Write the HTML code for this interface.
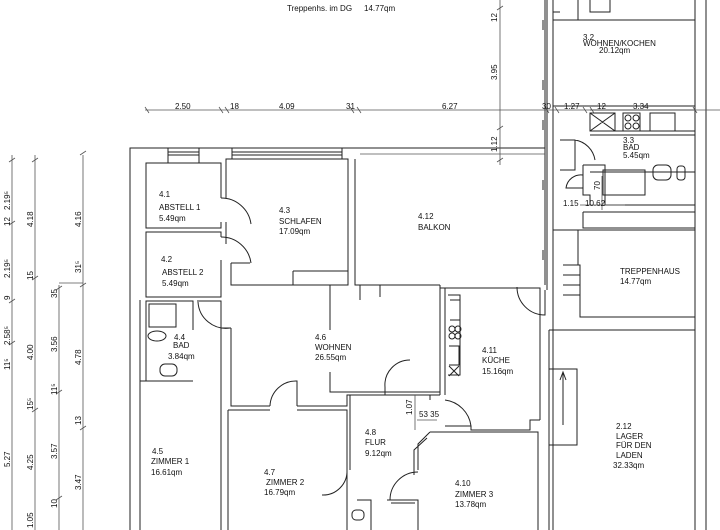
<!DOCTYPE html>
<html><head><meta charset="utf-8"><style>
html,body{margin:0;padding:0;background:#fff}
svg{display:block}
text{font-family:"Liberation Sans",sans-serif;font-size:8px;fill:#111}
</style></head><body>
<svg width="720" height="530" viewBox="0 0 720 530" xmlns="http://www.w3.org/2000/svg">
<g fill="none" stroke="#222" stroke-width="1">
<path d="M130 530V148H545"/>
<path d="M140 530V300"/>
<path d="M168 148v15M199 148v15M232 148v11M342 148v11"/>
<path d="M168 152H199M168 155H199M232 152H342M232 155H342"/>
<path d="M545 0V285M553 0V530M547 0V290"/>
<path d="M543 20v10M543 80v10M543 120v10M543 180v10M543 250v10"/>
<!-- Abstell 1 -->
<path d="M221 198V163H146V228H221V222"/>
<path d="M221 237V232H146V297H221V260"/>
<path d="M221 198a30 30 0 0 1 30 26M221 237a30 30 0 0 1 30 26"/>
<path d="M226 198V159H348V285H231V263"/>
<path d="M226 222V244"/>
<path d="M231 263H250M293 285V271M293 271H348M330 285v45"/>
<!-- bath 4.4 -->
<path d="M193 330V301H146V381H193M197 301H221V328H231"/>
<path d="M198 302a28 28 0 0 0 32 26"/>
<rect x="149" y="304" width="27" height="23"/>
<ellipse cx="157" cy="336" rx="9" ry="5"/>
<rect x="160" y="364" width="17" height="12" rx="5"/>
<path d="M140 381H193M221 328V530"/>
<!-- wohnen -->
<path d="M231 328V406H270M297 406H347V395H440"/>
<path d="M270 406a26 26 0 0 1 27 -25V406"/>
<path d="M330 372V392H440"/>
<path d="M228 410H270M297 410H347V530"/>
<path d="M228 410V530"/>
<!-- balkon -->
<path d="M355 159V285H440M360 285v15M380 285v12"/>
<path d="M440 285V395M440 288H540V420"/>
<path d="M445 288V395"/>
<!-- kueche -->
<path d="M448 295H460V375H448M450 300H460V320H450M449 346H459V365H449"/>
<circle cx="452" cy="329" r="3"/><circle cx="458" cy="329" r="3"/><circle cx="452" cy="336" r="3"/><circle cx="458" cy="336" r="3"/>
<path d="M449 366L459 376M459 366L449 376"/>
<path d="M445 400a30 30 0 0 1 26 26H445M471 426V430H530V420H540"/>
<path d="M410 360a25 25 0 0 0 -25 27V395"/>
<path d="M517 287a28 28 0 0 0 28 28V290"/>
<!-- flur -->
<path d="M350 395V470M430 395V400"/>
<path d="M347 470a24 24 0 0 1 -25 25"/>
<path d="M430 432H538V530M430 432L418 444V470"/>
<path d="M427 438L414 450V475"/>
<path d="M390 500a28 28 0 0 1 28 -28"/>
<path d="M347 500V530M357 500H371V530M387 500H418V530M391 503H415"/>
<rect x="352" y="510" width="12" height="10" rx="4"/>
<!-- right building -->
<path d="M553 0V12H560M553 20H695M578 20V0M590 0V12H610V0M695 0V530M706 0V530"/>
<path d="M553 106H695M590 110H695"/>
<path d="M590 113H615V131H590ZM590 113L615 131M615 113L590 131M623 113H640V131H623ZM650 113H675V131H650Z"/>
<circle cx="628" cy="118" r="3"/><circle cx="636" cy="118" r="3"/><circle cx="628" cy="126" r="3"/><circle cx="636" cy="126" r="3"/>
<path d="M590 131H695M590 135H695"/>
<path d="M560 140H575V170H560M575 140a24 24 0 0 1 20 20"/>
<path d="M583 165H605V205H695M590 172H695M603 170H645V195H603Z"/>
<rect x="653" y="165" width="18" height="15" rx="5"/><rect x="677" y="166" width="8" height="14" rx="3"/>
<path d="M583 165V195H590V205"/>
<path d="M583 175a15 15 0 0 0 -17 13h17"/>
<path d="M583 212H695V230M583 212V228H695"/>
<path d="M553 230H695M578 230V265H580V317H695V265"/>
<path d="M563 265H580M563 275H580M563 285H580M563 295H580"/>
<path d="M549 330H695M549 330V530M549 369H577V445H549M563 372V425"/>
<path d="M560 380l3 -8l3 8"/>
</g>
<g fill="none" stroke="#555" stroke-width="0.8">
<path d="M145 110H720"/>
<path d="M145 107l4 6M219 107l4 6M225 107l4 6M350 107l4 6M357 107l4 6M545 107l4 6M555 107l4 6M583 107l4 6M590 107l4 6M693 107l4 6"/>
<path d="M360 154H545M500 0V165M497 10l6 -4M497 130l6 -4M497 162l6 -4"/>
<path d="M12 155V530M35 155V530M59 285V530M83 155V530"/>
<path d="M59 283H83"/>
<path d="M9 162l6 -4M9 225l6 -4M9 303l6 -4M9 345l6 -4M32 162l6 -4M32 280l6 -4M32 412l6 -4M56 290l6 -4M56 394l6 -4M56 500l6 -4M80 155l6 -4M80 287l6 -4M80 430l6 -4"/>
<path d="M580 205H625M602 176V210M415 395V430M417 420h20"/>
</g>
<g>
<text x="287" y="11">Treppenhs. im DG</text><text x="364" y="11">14.77qm</text>
<text x="175" y="109">2.50</text><text x="230" y="109">18</text><text x="279" y="109">4.09</text><text x="346" y="109">31</text><text x="442" y="109">6.27</text>
<text x="542" y="109">30</text><text x="564" y="109">1.27</text><text x="597" y="109">12</text><text x="633" y="109">3.34</text>
<text x="583" y="40">3.2</text><text x="583" y="46">WOHNEN/KOCHEN</text><text x="599" y="53">20.12qm</text>
<text x="623" y="143">3.3</text><text x="623" y="150">BAD</text><text x="623" y="158">5.45qm</text>
<text x="563" y="206">1.15</text><text x="585" y="206">10.62</text>
<text x="159" y="197">4.1</text><text x="159" y="210">ABSTELL 1</text><text x="159" y="221">5.49qm</text>
<text x="161" y="262">4.2</text><text x="162" y="275">ABSTELL 2</text><text x="162" y="286">5.49qm</text>
<text x="279" y="213">4.3</text><text x="279" y="224">SCHLAFEN</text><text x="279" y="234">17.09qm</text>
<text x="418" y="219">4.12</text><text x="418" y="230">BALKON</text>
<text x="620" y="274">TREPPENHAUS</text><text x="620" y="284">14.77qm</text>
<text x="174" y="340">4.4</text><text x="173" y="348">BAD</text><text x="168" y="359">3.84qm</text>
<text x="315" y="340">4.6</text><text x="315" y="350">WOHNEN</text><text x="315" y="360">26.55qm</text>
<text x="482" y="353">4.11</text><text x="482" y="363">KÜCHE</text><text x="482" y="374">15.16qm</text>
<text x="365" y="435">4.8</text><text x="365" y="445">FLUR</text><text x="365" y="456">9.12qm</text>
<text x="419" y="417">53 35</text>
<text x="152" y="454">4.5</text><text x="151" y="464">ZIMMER 1</text><text x="151" y="475">16.61qm</text>
<text x="264" y="475">4.7</text><text x="266" y="485">ZIMMER 2</text><text x="264" y="495">16.79qm</text>
<text x="455" y="486">4.10</text><text x="455" y="497">ZIMMER 3</text><text x="455" y="507">13.78qm</text>
<text x="616" y="429">2.12</text><text x="616" y="439">LAGER</text><text x="616" y="448">FÜR DEN</text><text x="616" y="458">LADEN</text><text x="613" y="468">32.33qm</text>
<g transform="rotate(-90)">
<text x="-22" y="497">12</text><text x="-80" y="497">3.95</text><text x="-152" y="497">1.12</text>
<text x="-210" y="10">2.19⁵</text><text x="-226" y="10">12</text><text x="-278" y="10">2.19⁵</text><text x="-300" y="10">9</text>
<text x="-345" y="10">2.58⁵</text><text x="-370" y="10">11⁵</text><text x="-467" y="10">5.27</text>
<text x="-227" y="33">4.18</text><text x="-280" y="33">15</text><text x="-360" y="33">4.00</text><text x="-410" y="33">15⁵</text><text x="-470" y="33">4.25</text><text x="-528" y="33">1.05</text>
<text x="-298" y="57">35</text><text x="-352" y="57">3.56</text><text x="-395" y="57">11⁵</text><text x="-459" y="57">3.57</text><text x="-508" y="57">10</text>
<text x="-227" y="81">4.16</text><text x="-273" y="81">31⁵</text><text x="-365" y="81">4.78</text><text x="-425" y="81">13</text><text x="-490" y="81">3.47</text>
<text x="-415" y="412">1.07</text><text x="-190" y="600">70</text>
</g>
</g>
</svg>
</body></html>
